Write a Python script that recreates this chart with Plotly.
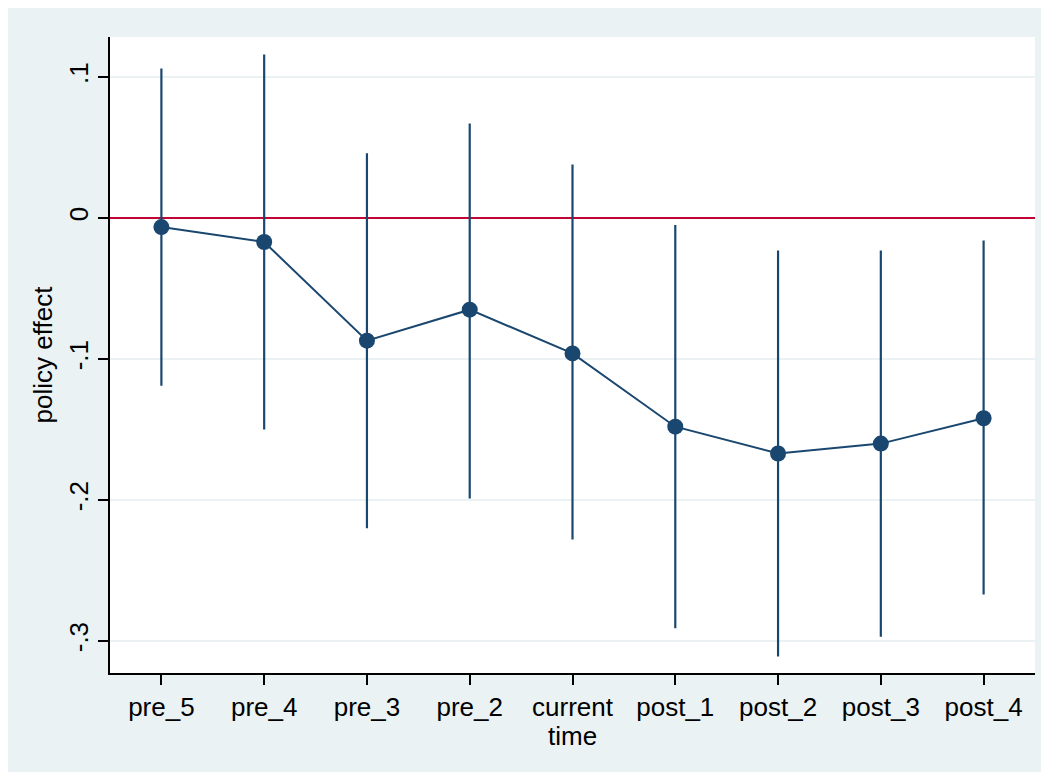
import plotly.graph_objects as go

categories = ["pre_5", "pre_4", "pre_3", "pre_2", "current", "post_1", "post_2", "post_3", "post_4"]
estimate = [-0.0064, -0.017, -0.087, -0.065, -0.096, -0.148, -0.167, -0.160, -0.142]
ci_high = [0.106, 0.116, 0.046, 0.067, 0.038, -0.005, -0.023, -0.023, -0.016]
ci_low = [-0.119, -0.150, -0.220, -0.199, -0.228, -0.291, -0.311, -0.297, -0.267]
y_tickvals = [0.1, 0, -0.1, -0.2, -0.3]
y_ticktext = [".1", "0", "-.1", "-.2", "-.3"]
reference_value = 0

navy = "#1A476F"
bg = "#EAF2F3"
xpos = list(range(len(categories)))
x_range = [-0.5, len(categories) - 0.5]

fig = go.Figure()
fig.add_trace(go.Scatter(
    x=x_range, y=[reference_value, reference_value], mode="lines",
    line=dict(color="#C10534", width=2), hoverinfo="skip", showlegend=False,
))
fig.add_trace(go.Scatter(
    x=xpos, y=estimate, mode="lines+markers",
    line=dict(color=navy, width=2),
    marker=dict(color=navy, size=16),
    error_y=dict(type="data", symmetric=False,
                 array=[h - e for h, e in zip(ci_high, estimate)],
                 arrayminus=[e - l for e, l in zip(estimate, ci_low)],
                 color=navy, thickness=2.2, width=0),
    showlegend=False,
))

W, H = 1049, 772
L, R, T, B = 102, 22, 29, 107

fig.add_annotation(text="time", xref="paper", yref="paper", x=0.5, y=-0.099,
                   xanchor="center", yanchor="middle", showarrow=False,
                   font=dict(size=26, color="black"))

fig.update_layout(
    width=W, height=H,
    margin=dict(l=L, r=R, t=T, b=B),
    paper_bgcolor=bg, plot_bgcolor="white",
    font=dict(family="Liberation Sans, Arial", size=26, color="black"),
    xaxis=dict(
        range=x_range, tickmode="array", tickvals=xpos, ticktext=categories,
        showgrid=False, zeroline=False, showline=True, linecolor="black", linewidth=1.5,
        ticks="outside", ticklen=10, tickcolor="black", tickwidth=1.5,
        tickfont=dict(size=26),
    ),
    yaxis=dict(
        range=[-0.3227, 0.1284], tickmode="array", tickvals=y_tickvals, ticktext=y_ticktext,
        tickangle=-90, showgrid=True, gridcolor=bg, gridwidth=1.5, zeroline=False,
        showline=True, linecolor="black", linewidth=1.5,
        ticks="outside", ticklen=10, tickcolor="black", tickwidth=1.5,
        title=dict(text="policy effect", font=dict(size=26), standoff=4),
        tickfont=dict(size=26),
    ),
)

fig.write_html("out.html")
